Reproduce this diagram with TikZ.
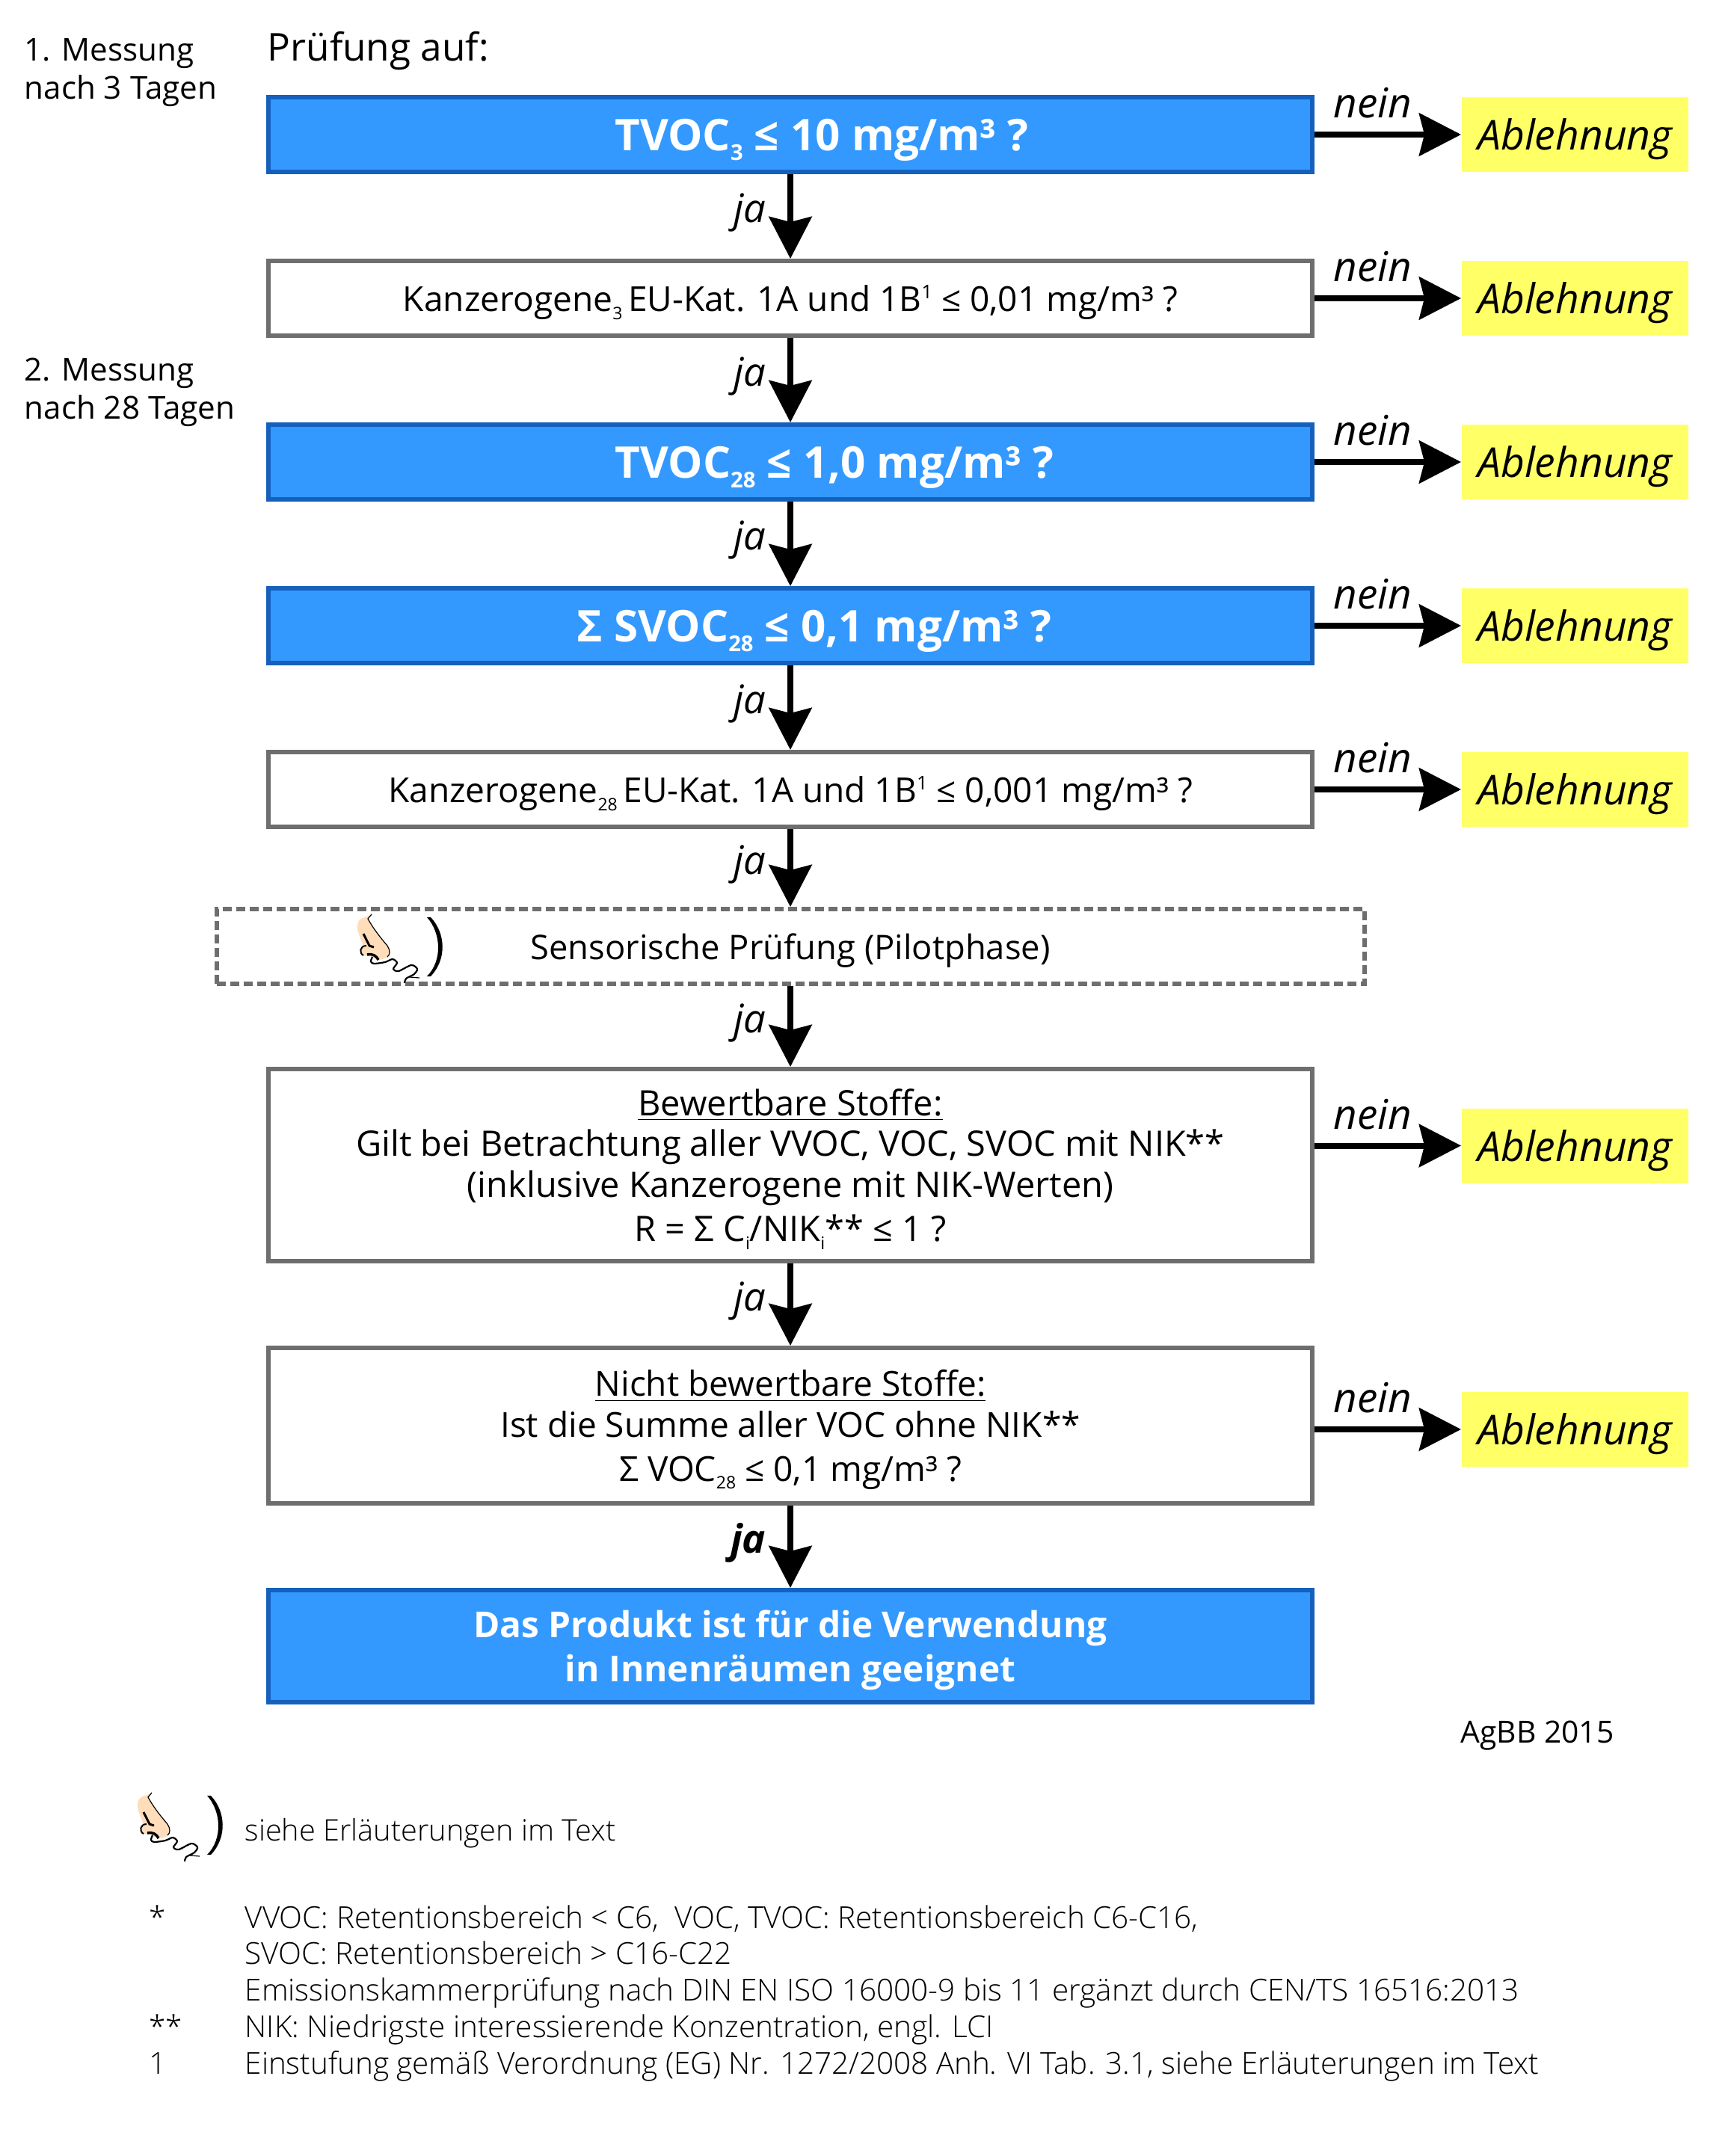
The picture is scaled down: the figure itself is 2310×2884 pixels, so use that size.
\documentclass[tikz,border=0pt]{standalone}
\usepackage{fontspec}
\setmainfont{Open Sans}
\newfontface\lightface{Open Sans Light}
\usetikzlibrary{arrows.meta,positioning}
\definecolor{boxblue}{HTML}{3399FF}
\definecolor{boxblueline}{HTML}{1560BD}
\definecolor{boxgrey}{HTML}{6E6E6E}
\definecolor{rejectyellow}{HTML}{FFFF66}
\definecolor{noseskin}{HTML}{FFDDBB}
\newcommand{\lowtxt}[1]{\raisebox{-0.42ex}{\scalebox{0.5}{#1}}}
\newcommand{\hightxt}[1]{\raisebox{0.72ex}{\scalebox{0.55}{#1}}}
\tikzset{
  flowbox/.style={draw=boxgrey, line width=0.6mm, fill=white, align=center,
    minimum width=13.96cm, minimum height=1.0cm, text depth=0pt,
    font=\fontsize{13.1}{15.6}\selectfont},
  bluebox/.style={flowbox, draw=boxblueline, fill=boxblue, text=white, text depth=-1.4pt,
    font=\fontsize{16.6}{17}\selectfont\bfseries},
  endbox/.style={bluebox, font=\fontsize{13.6}{16.8}\selectfont\bfseries},
  sensebox/.style={flowbox, dashed, dash pattern=on 1.2mm off 0.6mm,
    minimum width=15.35cm, font=\fontsize{12.9}{15.6}\selectfont},
  rejectbox/.style={fill=rejectyellow, minimum width=3.03cm, minimum height=1.0cm,
    inner sep=0pt, text depth=0pt, font=\fontsize{15.7}{18}\selectfont\itshape},
  arr/.style={-{Stealth[length=5.6mm,width=5.7mm,inset=0.7mm]}, line width=0.8mm, black},
  jalabel/.style={left=0.17cm, yshift=0.05cm, font=\fontsize{15}{17}\selectfont\itshape},
  neinlabel/.style={above=0.06cm, xshift=-0.2cm, font=\fontsize{15.6}{17}\selectfont\itshape},
  sidelabel/.style={anchor=west, align=left, inner sep=0pt,
    font=\fontsize{12}{14.4}\selectfont},
  notetext/.style={anchor=west, align=left, inner sep=0pt,
    font=\fontsize{11.5}{13.9}\selectfont\lightface},
  nose/.pic={
    \fill[noseskin] (19,0) -- (14,6) .. controls (20,17) and (28,28) .. (40,42)
      .. controls (44,48) and (44,54) .. (40,57) .. controls (34,62) and (24,62) .. (18,56)
      -- (8,55) .. controls (3,52) and (3,46) .. (8,42) .. controls (4,32) and (0,24) .. (0,17)
      .. controls (0,10) and (2,6) .. (10,4) -- cycle;
    \draw[line width=0.12mm] (19,0) -- (14,6) .. controls (20,17) and (28,28) .. (40,42)
      .. controls (44,48) and (44,54) .. (40,57);
    \draw[line width=0.3mm] (8,26) -- (16,42) -- (22,44);
    \draw[line width=0.2mm] (12,42) .. controls (3,42) and (2,52) .. (8,55);
    \draw[line width=0.35mm] (13,54) .. controls (20,52) and (26,56) .. (28,61);
    \draw[line width=0.22mm] plot[smooth] coordinates {(20,57) (18,63) (22,66) (37,64) (47,60)
      (53,65) (48,73) (55,76) (72,68) (80,73) (76,80) (65,86) (63,92)};
    \draw[line width=0.12mm] (70,84) -- (83,85);
    \fill (93,4) .. controls (112,25) and (114,62) .. (93,83) -- (98,83)
      .. controls (120,60) and (118,25) .. (98,4) -- cycle;
  }
}
\begin{document}
\begin{tikzpicture}[x=0.1mm, y=-0.1mm, node distance=1.13cm]
  \useasboundingbox (0,0) rectangle (2310,2884);
  % Pruefschritte
  \node[bluebox] (q1) at (1057,180) {\hspace*{0.84cm}TVOC\lowtxt{3} ≤ 10 mg/m³ ?};
  \node[flowbox, below=of q1] (q2) {Kanzerogene\lowtxt{3}\,EU-Kat. 1A und 1B\hightxt{1} ≤ 0,01 mg/m³ ?};
  \node[bluebox, below=of q2] (q3) {\hspace*{1.18cm}TVOC\lowtxt{28} ≤ 1,0 mg/m³ ?};
  \node[bluebox, below=of q3] (q4) {\hspace*{0.64cm}Σ SVOC\lowtxt{28} ≤ 0,1 mg/m³ ?};
  \node[flowbox, below=of q4] (q5) {Kanzerogene\lowtxt{28}\,EU-Kat. 1A und 1B\hightxt{1} ≤ 0,001 mg/m³ ?};
  \node[sensebox, below=1.04cm of q5] (q6) {Sensorische Prüfung (Pilotphase)};
  \node[flowbox, minimum height=2.57cm, below=1.08cm of q6, font=\fontsize{13.35}{15.6}\selectfont] (q7)
    {\underline{Bewertbare Stoffe:}\\Gilt bei Betrachtung aller VVOC, VOC, SVOC mit NIK**\\
     (inklusive Kanzerogene mit NIK-Werten)\\[1.2pt]R = Σ C\lowtxt{i}/NIK\lowtxt{i}** ≤ 1 ?};
  \node[flowbox, minimum height=2.08cm, below=1.10cm of q7] (q8)
    {\underline{Nicht bewertbare Stoffe:}\\Ist die Summe aller VOC ohne NIK**\\[1.2pt]
     Σ VOC\lowtxt{28} ≤ 0,1 mg/m³ ?};
  \node[endbox, minimum height=1.5cm, below=1.10cm of q8] (q9)
    {Das Produkt ist für die Verwendung\\in Innenräumen geeignet};
  % Ablehnung
  \node[rejectbox, right=1.96cm of q1] (r1) {Ablehnung};
  \node[rejectbox, right=1.96cm of q2] (r2) {Ablehnung};
  \node[rejectbox, right=1.96cm of q3] (r3) {Ablehnung};
  \node[rejectbox, right=1.96cm of q4] (r4) {Ablehnung};
  \node[rejectbox, right=1.96cm of q5] (r5) {Ablehnung};
  \node[rejectbox, right=1.96cm of q7, yshift=0.26cm] (r7) {Ablehnung};
  \node[rejectbox, right=1.96cm of q8, yshift=-0.05cm] (r8) {Ablehnung};
  % ja
  \draw[arr] (q1) -- node[jalabel] (ja1) {ja} (q2);
  \draw[arr] (q2) -- node[jalabel] (ja2) {ja} (q3);
  \draw[arr] (q3) -- node[jalabel] (ja3) {ja} (q4);
  \draw[arr] (q4) -- node[jalabel] (ja4) {ja} (q5);
  \draw[arr] (q5) -- node[jalabel] (ja5) {ja} (q6);
  \draw[arr] (q6) -- node[jalabel] (ja6) {ja} (q7);
  \draw[arr] (q7) -- node[jalabel] (ja7) {ja} (q8);
  \draw[arr] (q8) -- node[jalabel, font=\fontsize{15}{17}\selectfont\itshape\bfseries] (ja8) {ja} (q9);
  % nein
  \draw[arr] (q1) -- node[neinlabel] (no1) {nein} (r1);
  \draw[arr] (q2) -- node[neinlabel] (no2) {nein} (r2);
  \draw[arr] (q3) -- node[neinlabel] (no3) {nein} (r3);
  \draw[arr] (q4) -- node[neinlabel] (no4) {nein} (r4);
  \draw[arr] (q5) -- node[neinlabel] (no5) {nein} (r5);
  \draw[arr] (q7.east |- r7) -- node[neinlabel] (no7) {nein} (r7);
  \draw[arr] (q8.east |- r8) -- node[neinlabel] (no8) {nein} (r8);
  % Beschriftung
  \node[sidelabel, font=\fontsize{14.6}{17}\selectfont] (pruef) at (357,68) {Prüfung auf:};
  \node[sidelabel] (mess1) at (32,97) {1. Messung\\nach 3 Tagen};
  \node[sidelabel] (mess2) at (32,525) {2. Messung\\nach 28 Tagen};
  \node[sidelabel, font=\fontsize{11.6}{14}\selectfont] (year) at (1953,2322) {AgBB 2015};
  % Nase
  \pic at (478,1223) {nose};
  \pic at (184,2398) {nose};
  \node[notetext, font=\fontsize{11.3}{13.9}\selectfont\lightface] (see) at (327,2452) {siehe Erläuterungen im Text};
  \node[notetext] (marks) at (199,2667) {\strut *\\~\\~\\**\\\strut 1};
  \node[notetext] (notes) at (327,2667) {\strut VVOC: Retentionsbereich < C6,~ VOC, TVOC: Retentionsbereich C6-C16,\\
    SVOC: Retentionsbereich > C16-C22\\
    Emissionskammerprüfung nach DIN EN ISO 16000-9 bis 11 ergänzt durch CEN/TS 16516:2013\\
    NIK: Niedrigste interessierende Konzentration, engl. LCI\\
    \strut Einstufung gemäß Verordnung (EG) Nr. 1272/2008 Anh. VI Tab. 3.1, siehe Erläuterungen im Text};
\end{tikzpicture}
\end{document}
